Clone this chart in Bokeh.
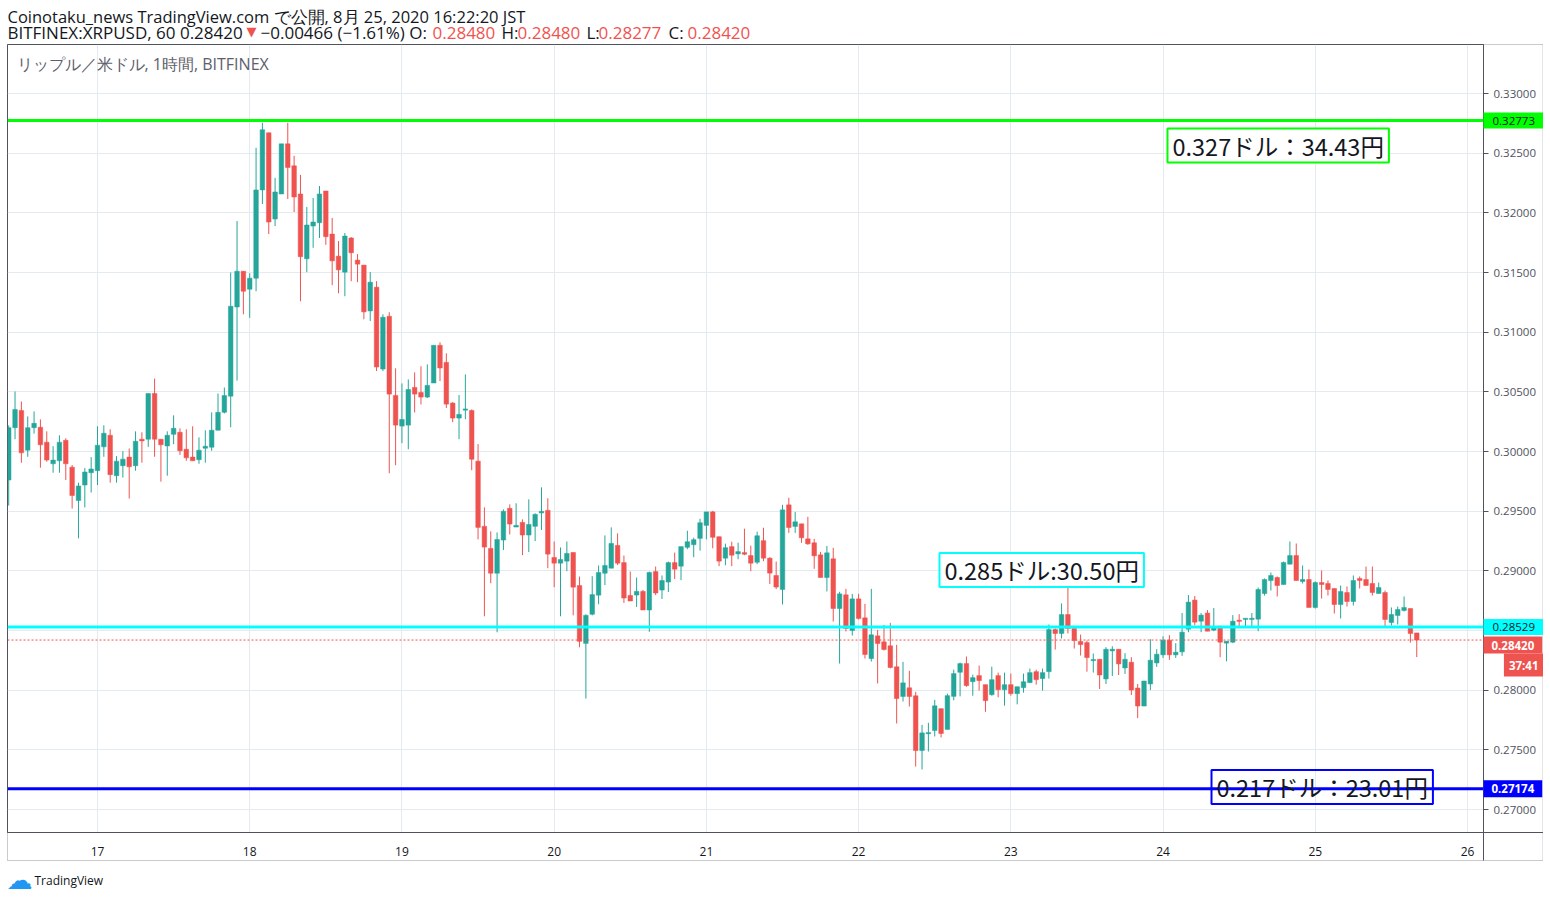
import pandas as pd
from bokeh.plotting import figure
from bokeh.models import (ColumnDataSource, FixedTicker, DatetimeTickFormatter,
                          NumeralTickFormatter, Span, Label, Range1d, BoxAnnotation)
from bokeh.embed import file_html
from bokeh.resources import INLINE

# ---------------- data (hourly candles, XRP/USD, Bitfinex) ----------------
last_bar = "2020-08-25 16:00"

opens = [
    .29761, .30200, .30344, .30011, .30200, .30203, .30078, .29897, .29922, .30094,
    .29869, .29589, .29719, .29822, .29839, .30039, .30136, .29797, .29881, .29953,
    .29881, .30103, .30103, .30486, .30103, .30047, .30144, .30161, .30019, .29953,
    .29931, .30028, .30036, .30178, .30328, .30464, .31211, .31511, .31360, .31452,
    .32192, .32671, .31948, .32158, .32578, .32394, .32158, .31615, .31889, .31917,
    .32183, .31822, .31637, .31503, .31789, .31604, .31562, .31178, .31377, .30691,
    .31133, .30470, .30213, .30221, .30537, .30495, .30456, .30574, .30890, .30747,
    .30406, .30280, .30350, .30344, .29919, .29373, .29188, .28980, .29258, .29524,
    .29367, .29406, .29300, .29373, .29485, .29507, .29112, .29064, .29081, .29154,
    .28877, .28392, .28636, .28796, .28980, .29022, .29213, .29069, .28794, .28797,
    .28828, .28672, .28994, .28839, .28906, .29069, .29039, .29197, .29219, .29272,
    .29381, .29494, .29286, .29106, .29203, .29142, .29153, .29128, .29072, .29253,
    .29106, .28961, .28844, .29553, .29372, .29394, .29268, .29235, .29134, .28944,
    .29101, .28684, .28799, .28500, .28765, .28606, .28265, .28455, .28405, .28372,
    .28196, .27947, .28020, .27953, .27494, .27637, .27662, .27845, .27671, .27948,
    .28150, .28223, .28071, .28122, .28046, .27962, .28122, .28004, .28046, .27971,
    .28021, .28063, .28155, .28097, .28155, .28508, .28475, .28634, .28517, .28408,
    .28399, .28248, .28259, .28094, .28329, .28343, .28186, .28234, .28018, .27867,
    .28052, .28228, .28296, .28419, .28296, .28321, .28511, .28755, .28578, .28646,
    .28503, .28536, .28394, .28402, .28584, .28595, .28595, .28595, .28810, .28919,
    .28944, .28885, .29056, .29128, .28911, .28927, .28693, .28902, .28894, .28852,
    .28718, .28818, .28743, .28936, .28927, .28894, .28810, .28818, .28567, .28626,
    .28668, .28684, .28480,
]
highs = [
    .30219, .30503, .30419, .30294, .30336, .30269, .30169, .30044, .30136, .30111,
    .29886, .29739, .29861, .29953, .30211, .30219, .30186, .29961, .30003, .30025,
    .30169, .30161, .30486, .30611, .30103, .30169, .30303, .30194, .30186, .30211,
    .30119, .30178, .30328, .30486, .30536, .31500, .31931, .31511, .31494, .32545,
    .32755, .32671, .32293, .32578, .32755, .32478, .32318, .32049, .32125, .32225,
    .32183, .31957, .31763, .31831, .31797, .31654, .31562, .31503, .31427, .31150,
    .31167, .30697, .30571, .30604, .30663, .30714, .30730, .30890, .30915, .30823,
    .30414, .30473, .30646, .30353, .30062, .29532, .29331, .29322, .29515, .29557,
    .29566, .29431, .29599, .29482, .29700, .29608, .29246, .29196, .29246, .29154,
    .28952, .28636, .28955, .29045, .29297, .29364, .29314, .29128, .28994, .28944,
    .28839, .28994, .29036, .28961, .29078, .29153, .29203, .29336, .29278, .29436,
    .29494, .29503, .29286, .29228, .29244, .29236, .29353, .29211, .29328, .29361,
    .29114, .29078, .29553, .29612, .29494, .29394, .29453, .29268, .29159, .29209,
    .29193, .28824, .28849, .28807, .28807, .28723, .28849, .28506, .28547, .28564,
    .28380, .28237, .28162, .27986, .27709, .27726, .27919, .27845, .27971, .28172,
    .28231, .28282, .28130, .28206, .28046, .28197, .28147, .28147, .28139, .28029,
    .28139, .28181, .28172, .28181, .28550, .28517, .28727, .28870, .28517, .28466,
    .28416, .28307, .28259, .28360, .28368, .28343, .28310, .28276, .28052, .28077,
    .28427, .28343, .28452, .28461, .28394, .28646, .28797, .28789, .28646, .28671,
    .28688, .28536, .28410, .28629, .28637, .28600, .28646, .28860, .28936, .28986,
    .28953, .29078, .29246, .29229, .29045, .29011, .28911, .29003, .28919, .28852,
    .28877, .28869, .28961, .28953, .29036, .29036, .28902, .28835, .28693, .28701,
    .28785, .28684, .28480,
]
lows = [
    .29547, .30103, .29906, .29956, .30150, .29864, .29914, .29822, .29822, .29761,
    .29522, .29272, .29531, .29656, .29719, .29956, .29739, .29739, .29781, .29606,
    .29839, .29906, .30039, .29956, .29747, .29797, .30061, .29972, .29922, .29922,
    .29897, .29906, .30006, .30178, .30319, .30203, .30594, .31150, .31120, .31343,
    .32074, .31822, .31889, .32158, .32116, .32007, .31259, .31503, .31707, .31789,
    .31732, .31394, .31326, .31301, .31427, .31419, .31108, .31094, .30674, .30674,
    .29818, .29885, .30070, .30019, .30327, .30394, .30448, .30574, .30590, .30364,
    .30246, .30103, .30271, .29843, .29263, .28619, .28896, .28485, .29174, .29305,
    .29367, .29132, .29157, .29249, .29342, .29022, .28863, .28619, .28997, .28627,
    .28359, .27930, .28627, .28720, .28880, .29022, .29048, .28731, .28747, .28697,
    .28672, .28489, .28797, .28764, .28822, .28931, .28922, .29181, .29114, .29169,
    .29264, .29189, .29039, .29047, .29039, .29097, .29131, .28997, .29056, .29081,
    .28889, .28847, .28718, .29318, .29318, .29235, .29218, .29017, .28944, .28827,
    .28575, .28223, .28492, .28458, .28592, .28265, .28240, .28056, .28332, .28182,
    .27721, .27905, .27863, .27360, .27335, .27486, .27612, .27604, .27671, .27915,
    .27948, .28029, .27954, .27996, .27819, .27954, .27940, .27870, .27954, .27881,
    .27979, .28063, .28046, .27996, .28097, .28340, .28433, .28475, .28349, .28290,
    .28155, .28147, .28010, .28052, .28119, .28127, .28136, .27959, .27766, .27867,
    .28001, .28195, .28270, .28254, .28270, .28287, .28486, .28545, .28486, .28494,
    .28494, .28276, .28242, .28394, .28528, .28528, .28528, .28494, .28793, .28835,
    .28785, .28885, .29056, .28919, .28894, .28693, .28684, .28768, .28793, .28642,
    .28601, .28701, .28709, .28852, .28877, .28793, .28810, .28534, .28542, .28550,
    .28659, .28399, .28277,
]
closes = [
    .30200, .30353, .29989, .30200, .30236, .30056, .29928, .29928, .30078, .29897,
    .29631, .29711, .29828, .29853, .30053, .30153, .29806, .29919, .29936, .29872,
    .30086, .30089, .30486, .30103, .30056, .30136, .30194, .30006, .29947, .29922,
    .30011, .30044, .30178, .30328, .30469, .31217, .31511, .31343, .31452, .32192,
    .32696, .31923, .32175, .32578, .32380, .32133, .31632, .31898, .31923, .32158,
    .31800, .31598, .31522, .31805, .31665, .31570, .31170, .31419, .30708, .31125,
    .30481, .30221, .30269, .30520, .30481, .30456, .30554, .30890, .30700, .30397,
    .30280, .30311, .30353, .29935, .29364, .29199, .28980, .29263, .29499, .29392,
    .29381, .29300, .29389, .29473, .29499, .29140, .29064, .29095, .29146, .28863,
    .28409, .28627, .28801, .28986, .29045, .29230, .29064, .28772, .28747, .28828,
    .28672, .28986, .28814, .28919, .29069, .29014, .29203, .29244, .29261, .29403,
    .29494, .29281, .29081, .29194, .29131, .29161, .29139, .29064, .29294, .29106,
    .28981, .28864, .29511, .29363, .29411, .29277, .29226, .29126, .28944, .29151,
    .28684, .28807, .28517, .28765, .28601, .28299, .28464, .28391, .28341, .28190,
    .27930, .28061, .27947, .27494, .27642, .27642, .27869, .27637, .27954, .28139,
    .28223, .28038, .28105, .28080, .27912, .28088, .28004, .28046, .27971, .28029,
    .28071, .28147, .28088, .28147, .28508, .28475, .28634, .28517, .28416, .28382,
    .28273, .28256, .28127, .28343, .28343, .28220, .28259, .28001, .27867, .28077,
    .28251, .28301, .28419, .28296, .28318, .28486, .28738, .28570, .28629, .28494,
    .28528, .28402, .28410, .28578, .28579, .28600, .28600, .28844, .28927, .28961,
    .28877, .29070, .29128, .28919, .28927, .28693, .28902, .28885, .28844, .28718,
    .28827, .28743, .28919, .28919, .28877, .28818, .28860, .28592, .28634, .28676,
    .28693, .28475, .28420,
]

price_ticks = [0.270, 0.275, 0.280, 0.285, 0.290, 0.295, 0.300,
               0.305, 0.310, 0.315, 0.320, 0.325, 0.330]
day_ticks = ["2020-08-17", "2020-08-18", "2020-08-19", "2020-08-20", "2020-08-21",
             "2020-08-22", "2020-08-23", "2020-08-24", "2020-08-25", "2020-08-26"]

level_green = 0.32773
level_cyan = 0.28529
level_blue = 0.27174
last_price = 0.28420

header1 = "Coinotaku_news TradingView.com で公開, 8月 25, 2020 16:22:20 JST"
symbol_text = "BITFINEX:XRPUSD, 60 0.28420"
change_text = "\u22120.00466 (\u22121.61%) O:"
ohlc_values = ["0.28480", "0.28480", "0.28277", "0.28420"]
ohlc_keys = ["H:", "L:", "C:"]
pane_title = "リップル／米ドル, 1時間, BITFINEX"
note_green = "0.327ドル：34.43円"
note_cyan = "0.285ドル:30.50円"
note_blue = "0.217ドル：23.01円"
countdown = "37:41"

# ---------------- layout constants (page pixels) ----------------
W, H = 1543, 894
FR_L, FR_T, FR_W, FR_H = 7, 44, 1476, 788
HOUR = 3600000.0
PX_PER_HOUR = 6.3426

t17 = pd.Timestamp("2020-08-17").value / 1e6
x0 = t17 - (97 - FR_L) / PX_PER_HOUR * HOUR
x1 = x0 + FR_W / PX_PER_HOUR * HOUR
PX_PER_PRICE = 716.0 / 0.060
y_top = 0.330 + (93 - FR_T) / PX_PER_PRICE
y_bot = y_top - FR_H / PX_PER_PRICE


def X(px):
    return x0 + (px - FR_L) * (x1 - x0) / FR_W


def Y(py):
    return y_top - (py - FR_T) * (y_top - y_bot) / FR_H


def price_px(price):
    return FR_T + (y_top - price) * PX_PER_PRICE


UP, DOWN = "#26a69a", "#ef5350"
INK = "#131722"
AXIS = "#50535e"

times = pd.date_range(end=last_bar, periods=len(opens), freq="60min")
min_body = 1.2 / PX_PER_PRICE
tops, bots, cols = [], [], []
for o, c in zip(opens, closes):
    t, b = max(o, c), min(o, c)
    if t - b < min_body:
        m = (t + b) / 2
        t, b = m + min_body / 2, m - min_body / 2
    tops.append(t)
    bots.append(b)
    cols.append(UP if c >= o else DOWN)

src = ColumnDataSource(dict(t=times, o=opens, h=highs, l=lows, c=closes,
                            top=tops, bot=bots, color=cols))

# ---------------- main chart ----------------
p = figure(x_axis_type="datetime", y_axis_location="right",
           frame_width=FR_W, frame_height=FR_H,
           min_border_left=FR_L, min_border_right=W - FR_L - FR_W,
           min_border_top=FR_T, min_border_bottom=H - FR_T - FR_H,
           x_range=Range1d(x0, x1), y_range=Range1d(y_bot, y_top),
           output_backend="svg", toolbar_location=None,
           background_fill_color="white", border_fill_color="white")
p.outline_line_color = AXIS
p.outline_line_width = 1

day_ms = [pd.Timestamp(d).value / 1e6 for d in day_ticks]
p.xaxis.ticker = FixedTicker(ticks=day_ms)
p.xaxis.formatter = DatetimeTickFormatter(
    microseconds="%d", milliseconds="%d", seconds="%d", minsec="%d", minutes="%d",
    hourmin="%d", hours="%d", days="%d", months="%d", years="%d")
p.xaxis.major_tick_line_color = None
p.xaxis.minor_tick_line_color = None
p.xaxis.axis_line_color = AXIS
p.xaxis.major_label_text_font = "Open Sans"
p.xaxis.major_label_text_font_size = "12px"
p.xaxis.major_label_text_color = INK
p.xaxis.major_label_standoff = 8

p.yaxis.ticker = FixedTicker(ticks=price_ticks)
p.yaxis.formatter = NumeralTickFormatter(format="0.00000")
p.yaxis.major_tick_out = 5
p.yaxis.major_tick_in = 0
p.yaxis.major_tick_line_color = AXIS
p.yaxis.minor_tick_line_color = None
p.yaxis.axis_line_color = AXIS
p.yaxis.major_label_text_font = "Open Sans"
p.yaxis.major_label_text_font_size = "11.5px"
p.yaxis.major_label_text_color = AXIS
p.yaxis.major_label_standoff = 5

p.xgrid.ticker = FixedTicker(ticks=day_ms)
p.ygrid.ticker = FixedTicker(ticks=price_ticks)
p.grid.grid_line_color = "#e3ebf1"
p.grid.grid_line_width = 1

# candles
p.segment(x0="t", y0="h", x1="t", y1="l", line_color="color", line_width=1, source=src)
p.vbar(x="t", width=0.72 * HOUR, top="top", bottom="bot", fill_color="color",
       line_color="color", line_width=0.5, source=src)

# horizontal levels
p.add_layout(Span(location=level_green, dimension="width", line_color="#00ff00", line_width=3))
p.add_layout(Span(location=level_cyan, dimension="width", line_color="#00ffff", line_width=3))
p.add_layout(Span(location=level_blue, dimension="width", line_color="#0000ff", line_width=3))
p.add_layout(Span(location=last_price, dimension="width", line_color=DOWN,
                  line_width=1, line_dash="2 2"))


# notes with boxes (x is the box's left edge; padding = (horizontal, vertical))
def note(text, px, py, border, bg):
    p.add_layout(Label(x=X(px), y=Y(py), text=text, text_align="left", text_baseline="middle",
                       text_font="Noto Sans CJK JP", text_font_size="23.5px", text_color=INK,
                       border_line_color=border, border_line_width=2,
                       background_fill_color=bg, padding=(5, 0)))


note(note_green, 1167, 145, "#00ff00", "white")
note(note_cyan, 939, 569.5, "#00ffff", "white")
note(note_blue, 1211, 786.5, "#0000ff", None)

# ---------------- overlay (separate root) for texts outside the plotting frame ----------------
ov = figure(width=W, height=H, x_range=Range1d(0, W), y_range=Range1d(H, 0),
            min_border=0, x_axis_type=None, y_axis_type=None, toolbar_location=None,
            output_backend="svg", background_fill_alpha=0, border_fill_alpha=0,
            outline_line_color=None,
            styles={"position": "absolute", "left": "0px", "top": "0px"})

ov.add_layout(BoxAnnotation(left=FR_L, right=W - 0.5, top=FR_T, bottom=860,
                            fill_alpha=0, line_color=AXIS, line_width=1))
ov.add_layout(BoxAnnotation(left=FR_L + FR_W - 0.5, right=FR_L + FR_W + 0.5,
                            top=FR_T + FR_H, bottom=860,
                            fill_color=AXIS, fill_alpha=1, line_alpha=0))
ov.add_layout(BoxAnnotation(left=FR_L + FR_W, right=W,
                            top=FR_T + FR_H - 0.5, bottom=FR_T + FR_H + 0.5,
                            fill_color=AXIS, fill_alpha=1, line_alpha=0))


def txt(text, px, py, color=INK, size="17px", align="left", font="Open Sans",
        bold=False, bg=None, pad=0):
    ov.add_layout(Label(x=px, y=py, text=text, text_align=align, text_baseline="middle",
                        text_font=font, text_font_size=size, text_color=color,
                        text_font_style="bold" if bold else "normal",
                        background_fill_color=bg, padding=pad))


# header
txt(header1, 7, 16, size="16.5px")
txt(symbol_text, 7, 32)
txt("\u25bc", 246, 31, DOWN, "13px", font="DejaVu Sans")
txt(change_text, 260, 32)
txt(ohlc_values[0], 432, 32, DOWN)
for key, val, kx, vx in zip(ohlc_keys, ohlc_values[1:], [501, 586, 668], [517, 598, 687]):
    txt(key, kx, 32)
    txt(val, vx, 32, DOWN)
txt(pane_title, 16, 63, "#5d606b", "16px")

# price scale tags (x is the tag box's left / right edge)
txt("%.5f" % level_green, FR_L + FR_W, price_px(level_green), INK, "11.5px",
    bg="#00ff00", pad=(9, 4))
txt("%.5f" % level_cyan, FR_L + FR_W, price_px(level_cyan), INK, "11.5px",
    bg="#00ffff", pad=(9, 4))
txt("%.5f" % last_price, FR_L + FR_W, price_px(last_price) + 5, "white", "11.5px", bold=True,
    bg=DOWN, pad=(8, 4))
txt(countdown, W, price_px(last_price) + 25, "white", "11.5px", align="right", bold=True,
    bg=DOWN, pad=(5, 4))
txt("%.5f" % level_blue, FR_L + FR_W, price_px(level_blue), "white", "11.5px", bold=True,
    bg="#0000ff", pad=(8, 4))

# footer logo
txt("\u2601", 6, 879, "#2196f3", "26px", font="DejaVu Sans")
txt("TradingView", 34, 880, INK, "12px")

open("out.html", "w").write(file_html([p, ov], INLINE))
